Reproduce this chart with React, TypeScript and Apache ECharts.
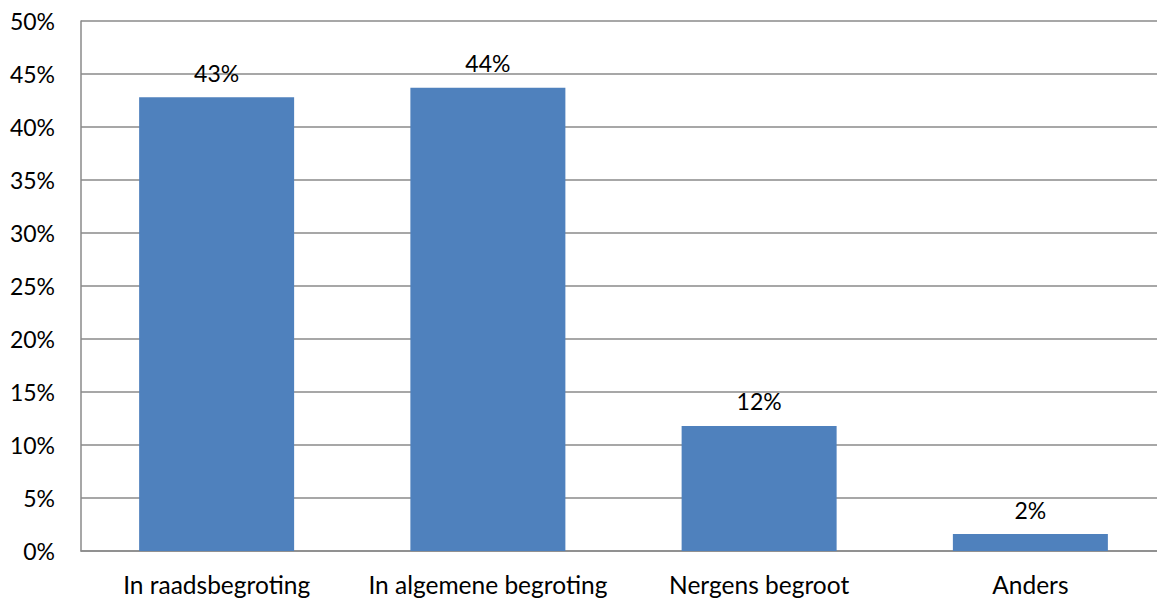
import React, { useEffect, useRef } from "react";
import * as echarts from "echarts";

const categories = ["In raadsbegroting", "In algemene begroting", "Nergens begroot", "Anders"];
const values = [42.8, 43.7, 11.8, 1.6];
const labels = ["43%", "44%", "12%", "2%"];

export default function App() {
  const ref = useRef<HTMLDivElement>(null);
  useEffect(() => {
    const chart = echarts.init(ref.current!, null, { renderer: "svg" });
    const font = "Lato";
    chart.setOption({
      animation: false,
      backgroundColor: "#ffffff",
      grid: { left: 81, top: 21, width: 1085, height: 530, containLabel: false },
      xAxis: {
        type: "category",
        data: categories,
        axisLine: { lineStyle: { color: "#8a8a8a", width: 1.5 } },
        axisTick: { show: false },
        axisLabel: { color: "#000", fontFamily: font, fontSize: 24.5, margin: 21, interval: 0, hideOverlap: false },
      },
      yAxis: {
        type: "value",
        min: 0,
        max: 50,
        interval: 5,
        axisLine: { show: true, lineStyle: { color: "#8a8a8a", width: 1.5 } },
        axisTick: { show: false },
        splitLine: { lineStyle: { color: "#8a8a8a", width: 1.5 } },
        axisLabel: { color: "#000", fontFamily: font, fontSize: 23, margin: 26, formatter: "{value}%" },
      },
      series: [
        {
          type: "bar",
          data: values,
          barWidth: 155,
          itemStyle: { color: "#4F81BD" },
          label: {
            show: true,
            position: "top",
            distance: 13,
            color: "#000",
            fontFamily: font,
            fontSize: 23,
            formatter: (p: any) => labels[p.dataIndex],
          },
        },
      ],
    });
    return () => chart.dispose();
  }, []);
  return (
    <div style={{ position: "absolute", left: 0, top: 0, width: 1157, height: 601, overflow: "hidden", background: "#fff" }}>
      <div ref={ref} style={{ width: 1175, height: 601 }} />
    </div>
  );
}
